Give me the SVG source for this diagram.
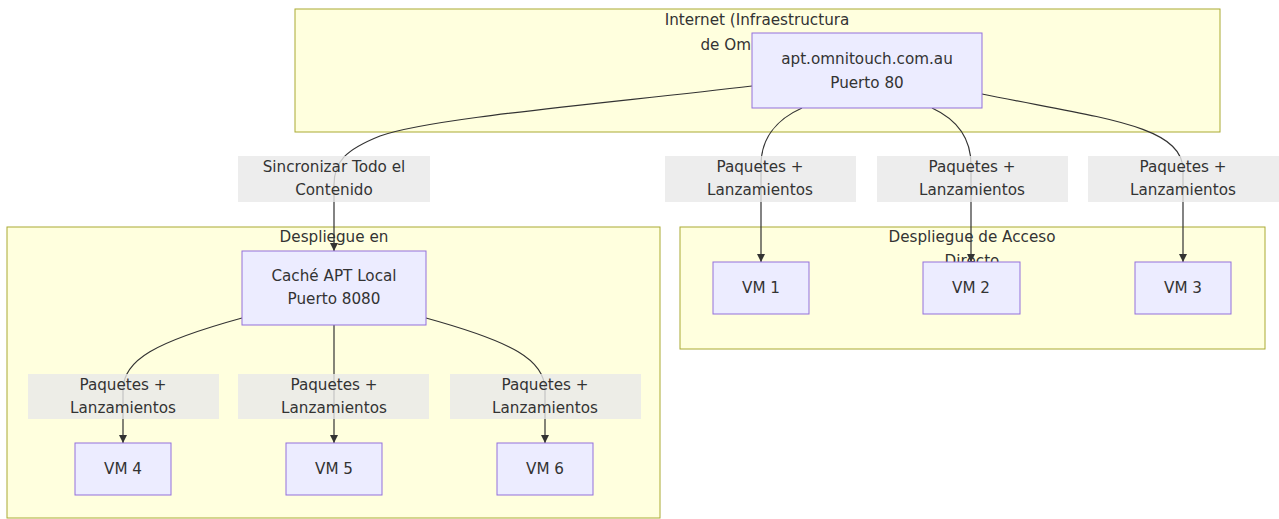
<svg xmlns="http://www.w3.org/2000/svg" width="1279" height="519" viewBox="0 0 1279 519">
<style>
.cluster{fill:#ffffde;stroke:#aaaa33;stroke-width:1}
.node{fill:#ececff;stroke:#9370db;stroke-width:1}
.lbl{fill:#e8e8e8;fill-opacity:0.8}
.edge{fill:none;stroke:#333;stroke-width:1.2}
text{font-family:"DejaVu Sans",Verdana,sans-serif;font-size:15.2px;fill:#333;text-anchor:middle;dominant-baseline:central}
</style>
<defs>
<marker id="arr" viewBox="0 0 10 10" refX="10" refY="5" markerWidth="8" markerHeight="8" markerUnits="userSpaceOnUse" orient="auto">
<path d="M0,0 L10,5 L0,10 z" fill="#333"/>
</marker>
</defs>
<g id="cluster-internet">
<rect class="cluster" x="295" y="9" width="925" height="123"/>
<text x="757" y="20">Internet (Infraestructura</text>
<text x="757" y="45">de Omnitouch)</text>
</g>
<g id="cluster-local">
<rect class="cluster" x="7" y="227" width="653" height="291"/>
<text x="334" y="237">Despliegue en</text>
</g>
<g id="cluster-direct">
<rect class="cluster" x="680" y="227" width="585" height="122"/>
<text x="972" y="237">Despliegue de Acceso</text>
<text x="972" y="261">Directo</text>
</g>
<g id="edges">
<path class="edge" marker-end="url(#arr)" d="M752,86 C600,104 430,118 380,136 C345,150 334,162 334,185 L334,251"/>
<path class="edge" marker-end="url(#arr)" d="M802,108 C775,120 761,140 761,165 L761,262"/>
<path class="edge" marker-end="url(#arr)" d="M932,108 C958,120 971,140 971,165 L971,262"/>
<path class="edge" marker-end="url(#arr)" d="M982,94 C1100,118 1183,125 1183,170 L1183,262"/>
<path class="edge" marker-end="url(#arr)" d="M242,318 C155,342 123,360 123,390 L123,443"/>
<path class="edge" marker-end="url(#arr)" d="M334,325 L334,443"/>
<path class="edge" marker-end="url(#arr)" d="M426,318 C513,342 545,360 545,390 L545,443"/>
</g>
<g id="edge-labels">
<g id="lbl-sync"><rect class="lbl" x="238" y="156" width="192" height="46"/><text x="334" y="167">Sincronizar Todo el</text><text x="334" y="190">Contenido</text></g>
<g id="lbl-vm1"><rect class="lbl" x="665" y="156" width="191" height="46"/><text x="760" y="167">Paquetes +</text><text x="760" y="190">Lanzamientos</text></g>
<g id="lbl-vm2"><rect class="lbl" x="877" y="156" width="191" height="46"/><text x="972" y="167">Paquetes +</text><text x="972" y="190">Lanzamientos</text></g>
<g id="lbl-vm3"><rect class="lbl" x="1088" y="156" width="191" height="46"/><text x="1183" y="167">Paquetes +</text><text x="1183" y="190">Lanzamientos</text></g>
<g id="lbl-vm4"><rect class="lbl" x="28" y="374" width="191" height="45"/><text x="123" y="385">Paquetes +</text><text x="123" y="408">Lanzamientos</text></g>
<g id="lbl-vm5"><rect class="lbl" x="238" y="374" width="191" height="45"/><text x="334" y="385">Paquetes +</text><text x="334" y="408">Lanzamientos</text></g>
<g id="lbl-vm6"><rect class="lbl" x="450" y="374" width="191" height="45"/><text x="545" y="385">Paquetes +</text><text x="545" y="408">Lanzamientos</text></g>
</g>
<g id="node-apt"><rect class="node" x="752" y="33" width="230" height="75"/><text x="867" y="59">apt.omnitouch.com.au</text><text x="867" y="83">Puerto 80</text></g>
<g id="node-cache"><rect class="node" x="242" y="251" width="184" height="74"/><text x="334" y="276">Caché APT Local</text><text x="334" y="299">Puerto 8080</text></g>
<g id="node-vm1"><rect class="node" x="713" y="262" width="96" height="52"/><text x="761" y="288">VM 1</text></g>
<g id="node-vm2"><rect class="node" x="923" y="262" width="97" height="52"/><text x="971" y="288">VM 2</text></g>
<g id="node-vm3"><rect class="node" x="1135" y="262" width="96" height="52"/><text x="1183" y="288">VM 3</text></g>
<g id="node-vm4"><rect class="node" x="75" y="443" width="96" height="52"/><text x="123" y="469">VM 4</text></g>
<g id="node-vm5"><rect class="node" x="286" y="443" width="96" height="52"/><text x="334" y="469">VM 5</text></g>
<g id="node-vm6"><rect class="node" x="497" y="443" width="96" height="52"/><text x="545" y="469">VM 6</text></g>
</svg>
